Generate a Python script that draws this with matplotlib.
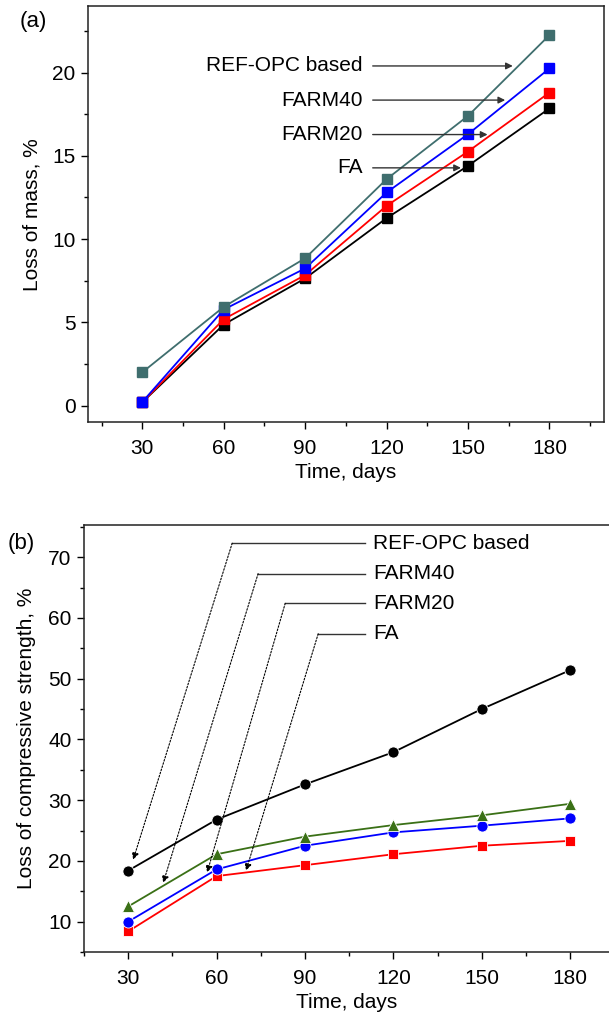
import numpy as np
import matplotlib
matplotlib.use("Agg")
import matplotlib.pyplot as plt
from matplotlib.ticker import MultipleLocator

plt.rcParams['font.family'] = ['Liberation Sans', 'DejaVu Sans']

days = [30, 60, 90, 120, 150, 180]
names = ["REF-OPC based", "FARM40", "FARM20", "FA"]

# (a) loss of mass, %
mass_ref = [2.0, 5.93, 8.85, 13.6, 17.4, 22.25]
mass_farm40 = [0.22, 5.77, 8.24, 12.8, 16.3, 20.25]
mass_farm20 = [0.2, 5.19, 7.84, 12.0, 15.26, 18.8]
mass_fa = [0.2, 4.87, 7.64, 11.26, 14.4, 17.85]

# (b) loss of compressive strength, %
cs_ref = [18.4, 26.8, 32.6, 37.9, 45.0, 51.4]
cs_farm40 = [12.5, 21.1, 24.0, 25.9, 27.5, 29.4]
cs_farm20 = [10.0, 18.6, 22.5, 24.7, 25.8, 27.0]
cs_fa = [8.4, 17.5, 19.3, 21.1, 22.5, 23.3]

FS = 15

fig = plt.figure(figsize=(6.09, 10.19), dpi=100)

def style_axis(ax, ymaj, ymin):
    ax.xaxis.set_major_locator(MultipleLocator(30))
    ax.xaxis.set_minor_locator(MultipleLocator(15))
    ax.yaxis.set_major_locator(MultipleLocator(ymaj))
    ax.yaxis.set_minor_locator(MultipleLocator(ymin))
    ax.tick_params(which='major', direction='out', length=5, width=1,
                   labelsize=FS, top=False, right=False, pad=4)
    ax.tick_params(axis='x', which='major', pad=7)
    ax.tick_params(which='minor', direction='out', length=3, width=1,
                   top=False, right=False)
    for s in ax.spines.values():
        s.set_linewidth(1.1)
        s.set_color('#222222')
    ax.set_xlabel("Time, days", fontsize=FS, labelpad=4)

# ---- panel (a)
ax1 = fig.add_axes([0.1445, 0.5856, 0.8468, 0.4085])
cols_a = ['#3f6e6e', 'blue', 'red', 'black']
series_a = [mass_ref, mass_farm40, mass_farm20, mass_fa]
for vals, c in zip(series_a[::-1], cols_a[::-1]):
    ax1.plot(days, vals, '-s', color=c, lw=1.3, ms=6.5, mec=c)
ax1.set_xlim(10, 200)
ax1.set_ylim(-1, 24)
style_axis(ax1, 5, 2.5)
ax1.set_ylabel("Loss of mass, %", fontsize=FS, labelpad=8)

txt_y_a = [20.4, 18.35, 16.28, 14.28]
tip_x_a = [166.5, 163.7, 157.2, 147.4]
for nm, ty, tx in zip(names, txt_y_a, tip_x_a):
    ax1.text(111.2, ty, nm, ha='right', va='center', fontsize=FS)
    ax1.annotate("", xy=(tx, ty), xytext=(114.9, ty),
                 arrowprops=dict(arrowstyle='-|>', color='#333333', lw=1.0,
                                 mutation_scale=10, shrinkA=0, shrinkB=0))
fig.text(0.033, 0.979, "(a)", fontsize=16, ha='left', va='center')

# ---- panel (b)
ax2 = fig.add_axes([0.1379, 0.0657, 0.8621, 0.4191])
ax2.plot(days, cs_fa, '-s', color='red', lw=1.3, ms=7.5, mec='white', mew=0.6)
ax2.plot(days, cs_farm20, '-o', color='blue', lw=1.3, ms=8, mec='white', mew=0.6)
ax2.plot(days, cs_farm40, '-^', color='#3a7016', lw=1.3, ms=8.5, mec='white', mew=0.6)
ax2.plot(days, cs_ref, '-o', color='black', lw=1.3, ms=8, mec='white', mew=0.6)
ax2.set_xlim(15, 193.2)
ax2.set_ylim(5, 75.3)
ax2.spines['right'].set_visible(False)
style_axis(ax2, 10, 5)
ax2.set_ylabel("Loss of compressive strength, %", fontsize=FS, labelpad=9)

knee_x = [65.3, 74.1, 83.3, 94.5]
knee_y = [72.3, 67.3, 62.4, 57.4]
tip_x = [31.7, 41.9, 56.8, 70.0]
tip_y = [20.2, 16.4, 18.1, 18.4]
for nm, kx, ky, px, py in zip(names, knee_x, knee_y, tip_x, tip_y):
    ax2.plot([kx, 110.4], [ky, ky], color='#333333', lw=1.0)
    ax2.text(113.1, ky, nm, ha='left', va='center', fontsize=FS)
    ax2.annotate("", xy=(px, py), xytext=(kx, ky),
                 arrowprops=dict(arrowstyle='-|>', color='black', lw=0.8,
                                 linestyle=(0, (1.5, 1.5)),
                                 mutation_scale=10, shrinkA=0, shrinkB=0))
fig.text(0.012, 0.467, "(b)", fontsize=16, ha='left', va='center')

fig.savefig("out.png", dpi=100)
